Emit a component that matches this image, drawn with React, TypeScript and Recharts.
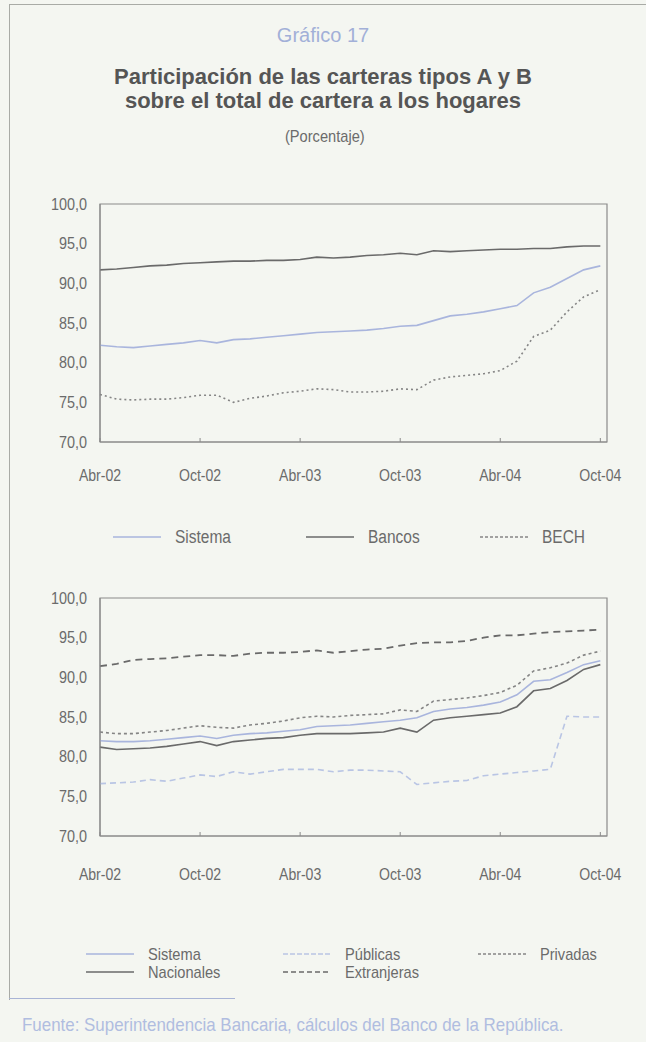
import React from 'react';
import { LineChart, Line, XAxis, YAxis, ReferenceArea } from 'recharts';

// meses, abril 2002 a octubre 2004
const months = [
  'Abr-02', 'May-02', 'Jun-02', 'Jul-02', 'Ago-02', 'Sep-02', 'Oct-02', 'Nov-02', 'Dic-02',
  'Ene-03', 'Feb-03', 'Mar-03', 'Abr-03', 'May-03', 'Jun-03', 'Jul-03', 'Ago-03', 'Sep-03',
  'Oct-03', 'Nov-03', 'Dic-03', 'Ene-04', 'Feb-04', 'Mar-04', 'Abr-04', 'May-04', 'Jun-04',
  'Jul-04', 'Ago-04', 'Sep-04', 'Oct-04',
];
const xTicks = [0, 6, 12, 18, 24, 30];
const yTicks = [70, 75, 80, 85, 90, 95, 100];

// panel superior
const sistemaTop = [
  82.2, 82.0, 81.9, 82.1, 82.3, 82.5, 82.8, 82.5, 82.9, 83.0, 83.2, 83.4, 83.6, 83.8, 83.9, 84.0,
  84.1, 84.3, 84.6, 84.7, 85.3, 85.9, 86.1, 86.4, 86.8, 87.2, 88.8, 89.5, 90.6, 91.7, 92.2,
];
const bancos = [
  91.7, 91.8, 92.0, 92.2, 92.3, 92.5, 92.6, 92.7, 92.8, 92.8, 92.9, 92.9, 93.0, 93.3, 93.2, 93.3,
  93.5, 93.6, 93.8, 93.6, 94.1, 94.0, 94.1, 94.2, 94.3, 94.3, 94.4, 94.4, 94.6, 94.7, 94.7,
];
const bech = [
  76.0, 75.4, 75.3, 75.4, 75.4, 75.6, 75.9, 75.9, 75.0, 75.5, 75.8, 76.2, 76.4, 76.7, 76.6, 76.3,
  76.3, 76.4, 76.7, 76.6, 77.8, 78.2, 78.4, 78.6, 79.0, 80.2, 83.3, 84.1, 86.4, 88.3, 89.2,
];

// panel inferior
const sistemaBottom = [
  82.0, 81.9, 81.9, 82.0, 82.2, 82.4, 82.6, 82.3, 82.7, 82.9, 83.0, 83.2, 83.4, 83.8, 83.9, 84.0,
  84.2, 84.4, 84.6, 84.9, 85.7, 86.0, 86.2, 86.5, 86.9, 87.8, 89.5, 89.7, 90.6, 91.6, 92.1,
];
const publicas = [
  76.6, 76.7, 76.8, 77.1, 76.9, 77.3, 77.7, 77.5, 78.1, 77.8, 78.1, 78.4, 78.4, 78.4, 78.1, 78.3,
  78.3, 78.2, 78.1, 76.5, 76.7, 76.9, 77.0, 77.6, 77.8, 78.0, 78.2, 78.4, 85.1, 85.0, 85.0,
];
const privadas = [
  83.1, 82.9, 82.9, 83.1, 83.3, 83.6, 83.9, 83.7, 83.6, 84.0, 84.2, 84.5, 84.9, 85.1, 85.0, 85.2,
  85.3, 85.4, 85.9, 85.7, 87.0, 87.2, 87.4, 87.7, 88.1, 89.0, 90.8, 91.2, 91.8, 92.8, 93.3,
];
const nacionales = [
  81.2, 80.9, 81.0, 81.1, 81.3, 81.6, 81.9, 81.4, 81.9, 82.1, 82.3, 82.4, 82.7, 82.9, 82.9, 82.9,
  83.0, 83.1, 83.6, 83.1, 84.6, 84.9, 85.1, 85.3, 85.5, 86.3, 88.3, 88.6, 89.6, 91.0, 91.6,
];
const extranjeras = [
  91.4, 91.7, 92.2, 92.3, 92.4, 92.6, 92.8, 92.8, 92.7, 93.0, 93.1, 93.1, 93.2, 93.4, 93.1, 93.3,
  93.5, 93.6, 94.0, 94.3, 94.4, 94.4, 94.6, 95.0, 95.3, 95.3, 95.5, 95.7, 95.8, 95.9, 96.0,
];

const topData = months.map((m, i) => ({ i, m, sistema: sistemaTop[i], bancos: bancos[i], bech: bech[i] }));
const bottomData = months.map((m, i) => ({
  i, m,
  sistema: sistemaBottom[i],
  publicas: publicas[i],
  privadas: privadas[i],
  nacionales: nacionales[i],
  extranjeras: extranjeras[i],
}));

const SANS = "'Liberation Sans', Arial, Helvetica, sans-serif";
const AXIS = '#8a8a8a';
const TEXT = '#6b6b6b';
const C_SIS = '#a9b5dd';
const C_DARK = '#6a6a6a';
const C_PUB = '#b9c5e4';
const C_DOT = '#858585';

const fmt = (v: number) => v.toFixed(1).replace('.', ',');

// texto "angosto": la fuente original es condensada
const XTick = ({ x, y, payload }: any) => (
  <text transform={`translate(${x},${y}) scale(0.88,1)`} textAnchor="middle" dy="0.71em" fill={TEXT} fontSize={16} fontFamily={SANS}>
    {months[payload.value]}
  </text>
);
const YTick = ({ x, y, payload }: any) => (
  <text transform={`translate(${x},${y}) scale(0.9,1)`} textAnchor="end" dy="0.36em" fill={TEXT} fontSize={16} fontFamily={SANS}>
    {fmt(payload.value)}
  </text>
);

const Panel = ({ data, children, tickGap }: any) => (
  <LineChart width={646} height={310} data={data} margin={{ top: 24, right: 39, bottom: 0, left: 40 }}>
    <XAxis
      dataKey="i"
      type="number"
      domain={[0, 30.4]}
      ticks={xTicks}
      stroke={AXIS}
      tickSize={-4}
      tickMargin={tickGap}
      height={48}
      tick={<XTick />}
    />
    <YAxis
      type="number"
      domain={[70, 100]}
      ticks={yTicks}
      stroke={AXIS}
      tickSize={0}
      tickMargin={13}
      width={60}
      tick={<YTick />}
    />
    <ReferenceArea x1={0} x2={30.4} y1={70} y2={100} fill="none" stroke={AXIS} strokeWidth={1.2} />
    {children}
  </LineChart>
);

const Narrow = ({ size, scale = 0.86, color = TEXT, children }: any) => (
  <span style={{ display: 'inline-block', fontFamily: SANS, fontSize: size, lineHeight: `${size}px`, color, transform: `scaleX(${scale})`, transformOrigin: 'left center', whiteSpace: 'nowrap' }}>
    {children}
  </span>
);

const LegendItem = ({ x, y, color, dash, label, size = 17 }: any) => (
  <div style={{ position: 'absolute', left: x, top: y - 8, height: 16, display: 'flex', alignItems: 'center' }}>
    <svg width={48} height={6} style={{ display: 'block' }}>
      <line x1={0} y1={3} x2={48} y2={3} stroke={color} strokeWidth={1.5} strokeDasharray={dash} />
    </svg>
    <span style={{ marginLeft: 14, height: 16, display: 'flex', alignItems: 'center' }}>
      <Narrow size={size}>{label}</Narrow>
    </span>
  </div>
);

export default function App() {
  return (
    <div style={{ position: 'absolute', left: 0, top: 0, width: 646, height: 1042, background: '#f4f6f1', overflow: 'hidden' }}>
      {/* marco */}
      <div style={{ position: 'absolute', left: 9, top: 4, width: 700, height: 995, borderLeft: '1.5px solid #a9aba6', borderTop: '1.5px solid #a9aba6' }} />
      <div style={{ position: 'absolute', left: 9, top: 998, width: 226, borderTop: '1.5px solid #a9b4d6' }} />

      <div style={{ position: 'absolute', left: 0, width: 646, top: 23, textAlign: 'center', fontFamily: SANS, fontSize: 20, lineHeight: '24px', color: '#a2b0d8' }}>
        Gráfico 17
      </div>
      <div style={{ position: 'absolute', left: 0, width: 646, top: 66, textAlign: 'center', fontFamily: SANS, fontSize: 22, fontWeight: 'bold', color: '#555', lineHeight: '22px' }}>
        Participación de las carteras tipos A y B
      </div>
      <div style={{ position: 'absolute', left: 0, width: 646, top: 90, textAlign: 'center', fontFamily: SANS, fontSize: 22, fontWeight: 'bold', color: '#555', lineHeight: '22px' }}>
        sobre el total de cartera a los hogares
      </div>
      <div style={{ position: 'absolute', left: 285, top: 128 }}>
        <Narrow size={17}>(Porcentaje)</Narrow>
      </div>

      <div style={{ position: 'absolute', left: 0, top: 180 }}>
        <Panel data={topData} tickGap={32}>
          <Line dataKey="sistema" stroke={C_SIS} strokeWidth={1.6} dot={false} isAnimationActive={false} />
          <Line dataKey="bancos" stroke={C_DARK} strokeWidth={1.6} dot={false} isAnimationActive={false} />
          <Line dataKey="bech" stroke={C_DOT} strokeWidth={1.6} strokeDasharray="2 3" dot={false} isAnimationActive={false} />
        </Panel>
      </div>
      <LegendItem x={113} y={537} color={C_SIS} label="Sistema" size={18} />
      <LegendItem x={306} y={537} color={C_DARK} label="Bancos" size={18} />
      <LegendItem x={480} y={537} color={C_DOT} dash="3 2" label="BECH" size={18} />

      <div style={{ position: 'absolute', left: 0, top: 574 }}>
        <Panel data={bottomData} tickGap={37}>
          <Line dataKey="publicas" stroke={C_PUB} strokeWidth={1.6} strokeDasharray="6 4" dot={false} isAnimationActive={false} />
          <Line dataKey="nacionales" stroke={C_DARK} strokeWidth={1.6} dot={false} isAnimationActive={false} />
          <Line dataKey="sistema" stroke={C_SIS} strokeWidth={1.6} dot={false} isAnimationActive={false} />
          <Line dataKey="privadas" stroke={C_DOT} strokeWidth={1.6} strokeDasharray="3 3" dot={false} isAnimationActive={false} />
          <Line dataKey="extranjeras" stroke={C_DARK} strokeWidth={1.8} strokeDasharray="7 5" dot={false} isAnimationActive={false} />
        </Panel>
      </div>
      <LegendItem x={86} y={954} color={C_SIS} label="Sistema" />
      <LegendItem x={86} y={972} color={C_DARK} label="Nacionales" />
      <LegendItem x={283} y={954} color={C_PUB} dash="5 2" label="Públicas" />
      <LegendItem x={283} y={972} color={C_DARK} dash="5 3" label="Extranjeras" />
      <LegendItem x={478} y={954} color={C_DOT} dash="3 2" label="Privadas" />

      <div style={{ position: 'absolute', left: 22, top: 1015 }}>
        <Narrow size={19} scale={0.89} color="#b0bde0">
          Fuente: Superintendencia Bancaria, cálculos del Banco de la República.
        </Narrow>
      </div>
    </div>
  );
}
